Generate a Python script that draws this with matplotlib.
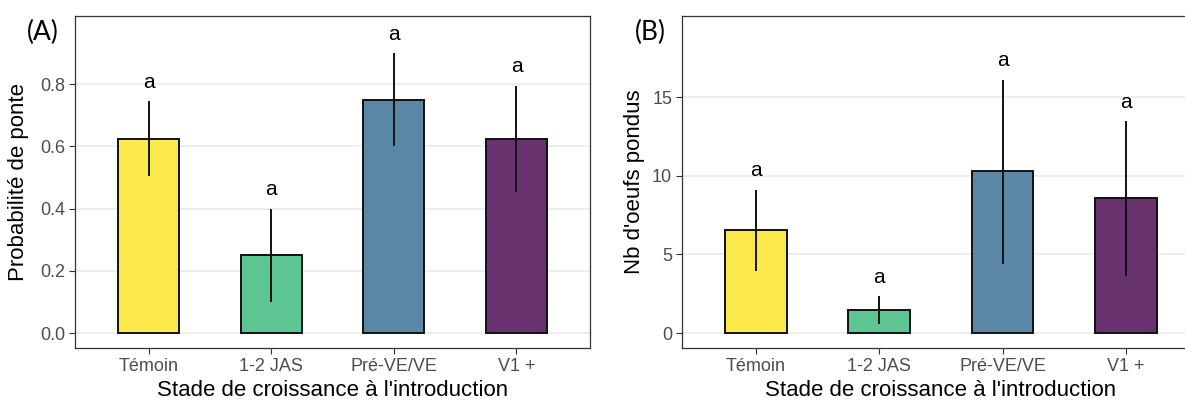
import matplotlib.pyplot as plt
import numpy as np

# Données
stades = ["Témoin", "1-2 JAS", "Pré-VE/VE", "V1 +"]
couleurs = ["#FBE94C", "#5DC592", "#5B87A6", "#68336F"]

proba = [0.625, 0.25, 0.75, 0.625]
proba_bas = [0.505, 0.10, 0.60, 0.455]
proba_haut = [0.745, 0.40, 0.90, 0.795]
proba_lettres = ["a", "a", "a", "a"]

oeufs = [6.55, 1.45, 10.3, 8.6]
oeufs_bas = [3.95, 0.55, 4.4, 3.65]
oeufs_haut = [9.1, 2.35, 16.1, 13.45]
oeufs_lettres = ["a", "a", "a", "a"]

plt.rcParams['font.family'] = ['Liberation Sans', 'DejaVu Sans']

fig = plt.figure(figsize=(11.85, 4.01), dpi=100)
axA = fig.add_axes([0.0633, 0.132, 0.4346, 0.828])
# le panneau B est coupé à droite dans l'original
axB = fig.add_axes([0.5755, 0.132, 0.4371, 0.828])


def panneau(ax, vals, bas, haut, lettres, ylab, ylim, yticks, decal, fmt, ylab_x):
    x = np.arange(len(stades))
    ax.bar(x, vals, width=0.5, color=couleurs, edgecolor="#111111", linewidth=1.4, zorder=3)
    for xi, b, h, l in zip(x, bas, haut, lettres):
        ax.vlines(xi, b, h, color="#111111", linewidth=1.4, zorder=4)
        ax.text(xi, h + decal, l, ha="center", va="bottom", fontsize=15, zorder=5)
    ax.set_xlim(-0.6, 3.6)
    ax.set_ylim(*ylim)
    ax.set_yticks(yticks)
    ax.set_yticklabels([fmt.format(v) for v in yticks])
    ax.set_xticks(x)
    ax.set_xticklabels(stades)
    ax.grid(axis="y", color="#EBEBEB", linewidth=1.2, zorder=0)
    ax.tick_params(colors="#333333", labelcolor="#4D4D4D", labelsize=13, length=4, pad=3)
    for s in ax.spines.values():
        s.set_color("#333333")
        s.set_linewidth(0.9)
    ax.set_xlabel("Stade de croissance à l'introduction", fontsize=16)
    ax.xaxis.set_label_coords(0.5, -0.128)
    ax.xaxis.label.set_va("center")
    ax.set_ylabel(ylab, fontsize=16)
    ax.yaxis.set_label_coords(ylab_x, 0.5)
    ax.yaxis.label.set_va("center")


panneau(axA, proba, proba_bas, proba_haut, proba_lettres, "Probabilité de ponte",
        (-0.048, 1.019), [0.0, 0.2, 0.4, 0.6, 0.8], 0.03, "{:.1f}", -0.109)
panneau(axB, oeufs, oeufs_bas, oeufs_haut, oeufs_lettres, "Nb d'oeufs pondus",
        (-0.95, 20.15), [0, 5, 10, 15], 0.6, "{:d}", -0.092)

fig.text(0.036, 0.92, "(A)", fontsize=19, ha="center", va="center", family=["Lato", "DejaVu Sans"])
fig.text(0.549, 0.92, "(B)", fontsize=19, ha="center", va="center", family=["Lato", "DejaVu Sans"])

plt.savefig("out.png", dpi=100)
